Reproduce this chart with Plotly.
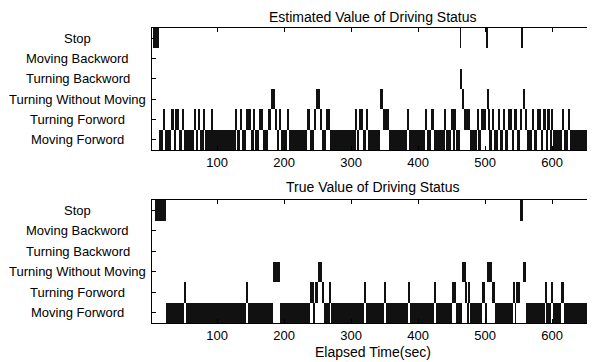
import plotly.graph_objects as go

# ---------------- data ----------------
status_labels = ["Moving Forword", "Turning Forword", "Turning Without Moving",
                 "Turning Backword", "Moving Backword", "Stop"]
status_codes = ["MF", "TF", "TWM", "TB", "MB", "S"]
x_ticks = [100, 200, 300, 400, 500, 600]

# Estimated status: time (sec) at which each status begins
est_times = [4, 13, 20, 22, 31, 36, 38, 43, 48, 51,
             65, 68, 71, 74, 80, 82, 92, 93, 128, 130,
             134, 138, 143, 150, 155, 157, 162, 169, 176, 181,
             186, 189, 193, 196, 205, 207, 235, 238, 244, 247,
             253, 257, 263, 269, 307, 309, 312, 318, 323, 325,
             343, 348, 357, 383, 387, 411, 413, 419, 424, 440,
             442, 449, 453, 454, 457, 463, 464, 466, 469, 478,
             488, 490, 494, 502, 504, 505, 506, 511, 513, 519,
             522, 527, 530, 534, 540, 543, 547, 552, 555, 557,
             559, 562, 570, 573, 578, 583, 587, 591, 593, 597,
             599, 602, 615, 618, 623, 626, 657]
est_status = ["S", "MF", "TF", "MF", "TF", "MF", "TF", "MF", "TF", "MF",
              "TF", "MF", "TF", "MF", "TF", "MF", "TF", "MF", "TF", "MF",
              "TF", "MF", "TF", "MF", "TF", "MF", "TF", "MF", "TF", "TWM",
              "TF", "MF", "TF", "MF", "TF", "MF", "TF", "MF", "TF", "TWM",
              "TF", "MF", "TF", "MF", "TF", "MF", "TF", "MF", "TF", "MF",
              "TWM", "TF", "MF", "TF", "MF", "TF", "MF", "TF", "MF", "TF",
              "MF", "TF", "MF", "TF", "MF", "S", "TB", "TWM", "TF", "MF",
              "TF", "MF", "TF", "S", "TWM", "TF", "MF", "TF", "MF", "TF",
              "MF", "TF", "MF", "TF", "MF", "TF", "MF", "TF", "S", "TWM",
              "TF", "MF", "TF", "MF", "TF", "MF", "TF", "MF", "TF", "MF",
              "TF", "MF", "TF", "MF", "TF", "MF", "S"]
est_end = 660

# True status: time (sec) at which each status begins
true_times = [7, 24, 51, 53, 143, 146, 184, 194, 238, 244,
              246, 250, 257, 260, 268, 270, 319, 322, 349, 352,
              385, 388, 424, 426, 450, 457, 465, 471, 473, 475,
              478, 495, 500, 503, 511, 515, 542, 545, 546, 552,
              556, 561, 590, 591, 598, 602, 613, 617]
true_status = ["S", "MF", "TF", "MF", "TF", "MF", "TWM", "MF", "TF", "MF",
               "TF", "TWM", "TF", "MF", "TF", "MF", "TF", "MF", "TF", "MF",
               "TF", "MF", "TF", "MF", "TF", "MF", "TWM", "TF", "MF", "TF",
               "MF", "TF", "MF", "TWM", "TF", "MF", "TF", "MF", "TF", "S",
               "TWM", "MF", "TF", "MF", "TF", "MF", "TF", "MF"]
true_end = 661

assert len(est_times) == len(est_status)
assert len(true_times) == len(true_status)

level = {c: i + 1 for i, c in enumerate(status_codes)}


def segments(times, status, end):
    xs, ws, bs = [], [], []
    for i, (t, s) in enumerate(zip(times, status)):
        t2 = times[i + 1] if i + 1 < len(times) else end
        xs.append((t + t2) / 2)
        ws.append(t2 - t)
        bs.append(level[s] - 0.5)
    return xs, ws, bs


FONT = "Liberation Sans"
fig = go.Figure()

for (times, status, end), xa, ya in [((est_times, est_status, est_end), "x", "y"),
                                     ((true_times, true_status, true_end), "x2", "y2")]:
    xs, ws, bs = segments(times, status, end)
    fig.add_trace(go.Bar(x=xs, y=[1] * len(xs), width=ws, base=bs,
                         marker=dict(color="#111111", line=dict(width=0)),
                         xaxis=xa, yaxis=ya, showlegend=False, hoverinfo="skip"))

axis_common = dict(showline=True, linecolor="black", linewidth=1, mirror="ticks",
                   ticks="inside", ticklen=4, tickcolor="black", showgrid=False,
                   zeroline=False)

# page body has an 8px default margin, so the figure is sized to fit the window
fig.update_layout(
    width=587, height=354,
    margin=dict(l=144, r=2, t=20, b=39),
    paper_bgcolor="white", plot_bgcolor="white",
    font=dict(family=FONT, size=13, color="black"),
    bargap=0,
    xaxis=dict(domain=[0, 1], range=[3, 661], anchor="y", tickvals=x_ticks,
               tickfont=dict(size=13), **axis_common),
    yaxis=dict(domain=[0.586, 1], range=[0.5, 6.5], anchor="x",
               tickvals=list(range(1, 7)), showticklabels=False, **axis_common),
    xaxis2=dict(domain=[0, 1], range=[3, 661], anchor="y2", tickvals=x_ticks,
                tickfont=dict(size=13), **axis_common),
    yaxis2=dict(domain=[0, 0.417], range=[0.5, 6.5], anchor="x2",
                tickvals=list(range(1, 7)), showticklabels=False, **axis_common),
)

ann = []
for yref in ["y", "y2"]:
    for i, lab in enumerate(status_labels):
        ann.append(dict(text=lab, xref="paper", yref=yref, x=-0.168, y=i + 1,
                        xanchor="center", yanchor="middle", showarrow=False,
                        font=dict(size=13, family=FONT)))
ann.append(dict(text="Estimated Value of Driving Status", xref="paper", yref="paper",
                x=0.5, y=1.036, xanchor="center", yanchor="middle", showarrow=False,
                font=dict(size=14, family=FONT)))
ann.append(dict(text="True Value of Driving Status", xref="paper", yref="paper",
                x=0.5, y=0.461, xanchor="center", yanchor="middle", showarrow=False,
                font=dict(size=14, family=FONT)))
ann.append(dict(text="Elapsed Time(sec)", xref="paper", yref="paper",
                x=0.5, y=-0.098, xanchor="center", yanchor="middle", showarrow=False,
                font=dict(size=14, family=FONT)))
fig.update_layout(annotations=ann)

fig.write_html("out.html")
